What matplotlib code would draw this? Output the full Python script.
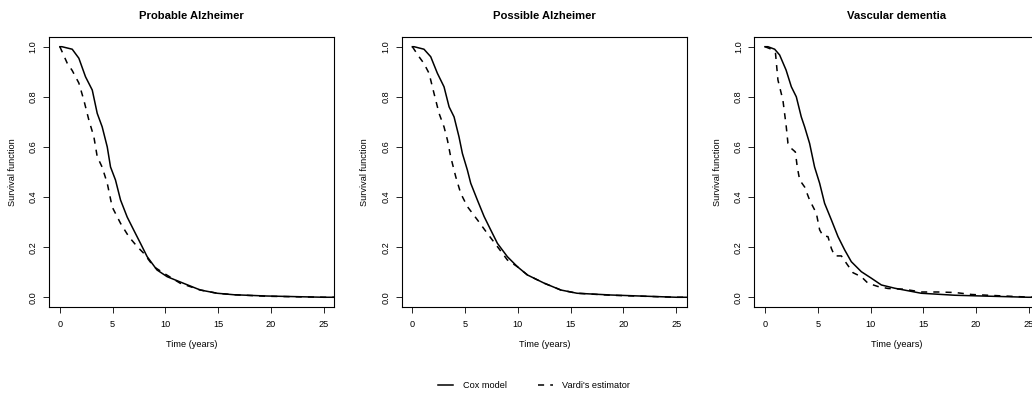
import matplotlib
matplotlib.use("Agg")
import matplotlib.pyplot as plt
from matplotlib.lines import Line2D

plt.rcParams["font.family"] = ["Liberation Sans", "DejaVu Sans"]

TITLES = ["Probable Alzheimer", "Possible Alzheimer", "Vascular dementia"]

# Cox model survival curves (time in years, survival)
cox_t1 = [0.0, 0.2, 1.17, 1.8, 2.43, 3.07, 3.54, 4.01, 4.49, 4.8, 5.27, 5.75, 6.38, 7.0,
          7.64, 8.27, 9.2, 10.17, 11.7, 13.3, 14.9, 16.5, 19.6, 25.0, 26.0]
cox_s1 = [1.0, 1.0, 0.99, 0.954, 0.88, 0.827, 0.734, 0.68, 0.60, 0.52, 0.468, 0.388, 0.32, 0.268,
          0.215, 0.162, 0.109, 0.082, 0.056, 0.029, 0.016, 0.01, 0.005, 0.0, 0.0]
cox_t2 = [0.0, 0.16, 1.1, 1.74, 2.37, 3.0, 3.48, 3.95, 4.42, 4.74, 5.21, 5.53, 6.16, 6.8,
          7.42, 8.06, 9.0, 9.95, 10.9, 12.5, 14.06, 15.6, 18.8, 25.0, 26.0]
cox_s2 = [1.0, 1.0, 0.99, 0.96, 0.894, 0.84, 0.76, 0.72, 0.64, 0.574, 0.508, 0.455, 0.388, 0.322,
          0.269, 0.215, 0.162, 0.122, 0.089, 0.056, 0.029, 0.016, 0.009, 0.0, 0.0]
cox_t3 = [0.0, 0.28, 0.92, 1.39, 2.0, 2.5, 2.97, 3.44, 3.76, 4.23, 4.7, 5.18, 5.65, 6.29,
          6.92, 7.55, 8.18, 9.13, 10.08, 11.03, 12.3, 14.8, 18.0, 24.9, 26.0]
cox_s3 = [1.0, 1.0, 0.99, 0.967, 0.907, 0.84, 0.80, 0.72, 0.68, 0.614, 0.52, 0.455, 0.375, 0.309,
          0.242, 0.189, 0.142, 0.102, 0.076, 0.049, 0.036, 0.016, 0.008, 0.0, 0.0]

# Vardi's estimator
var_t1 = [0.0, 0.7, 1.17, 1.8, 2.27, 2.75, 3.22, 3.54, 4.0, 4.49, 4.96, 5.75, 6.53, 7.33,
          7.96, 8.9, 9.85, 11.4, 13.3, 14.9, 16.5, 19.6, 25.0, 26.0]
var_s1 = [1.0, 0.934, 0.905, 0.855, 0.787, 0.707, 0.641, 0.561, 0.52, 0.455, 0.36, 0.295, 0.242, 0.202,
          0.175, 0.122, 0.096, 0.056, 0.029, 0.016, 0.01, 0.004, 0.0, 0.0]
var_t2 = [0.0, 0.63, 1.1, 1.58, 2.05, 2.53, 3.0, 3.32, 3.63, 4.11, 4.58, 5.21, 6.16, 7.1,
          8.06, 9.0, 9.95, 10.9, 12.5, 14.06, 15.6, 18.8, 25.0, 26.0]
var_s2 = [1.0, 0.96, 0.933, 0.894, 0.814, 0.734, 0.68, 0.628, 0.561, 0.481, 0.415, 0.362, 0.309, 0.255,
          0.202, 0.149, 0.122, 0.089, 0.056, 0.029, 0.016, 0.008, 0.0, 0.0]
var_t3 = [0.0, 0.6, 1.0, 1.23, 1.7, 1.86, 2.02, 2.18, 2.5, 2.88, 3.06, 3.29, 3.76, 4.23, 4.87,
          5.18, 5.5, 5.97, 6.29, 6.6, 7.24, 7.71, 8.34, 9.13, 9.76, 10.7, 11.66, 13.2, 14.8,
          16.4, 18.0, 19.6, 22.7, 25.3, 26.0]
var_s3 = [1.0, 0.99, 0.973, 0.867, 0.787, 0.734, 0.68, 0.614, 0.594, 0.58, 0.52, 0.468, 0.44, 0.388, 0.335,
          0.269, 0.245, 0.242, 0.195, 0.165, 0.165, 0.136, 0.098, 0.082, 0.056, 0.043, 0.035, 0.032, 0.021,
          0.021, 0.019, 0.011, 0.005, 0.0, 0.0]

COX = [(cox_t1, cox_s1), (cox_t2, cox_s2), (cox_t3, cox_s3)]
VARDI = [(var_t1, var_s1), (var_t2, var_s2), (var_t3, var_s3)]

FS = 6.6
LW = 1.1
DASH = (0, (4, 4))

fig = plt.figure(figsize=(10.32, 3.94), dpi=100)
lefts = [49.3, 401.8, 754.4]  # panel left edges in pixels

for i, left in enumerate(lefts):
    ax = fig.add_axes([left / 1032, 0.2201, 285.0 / 1032, 0.6868])
    ax.plot(*COX[i], color="black", lw=LW, solid_joinstyle="round")
    ax.plot(*VARDI[i], color="black", lw=LW, linestyle=DASH)
    ax.set_xlim(-1, 26)
    ax.set_ylim(-0.04, 1.04)
    ax.set_xticks([0, 5, 10, 15, 20, 25])
    ax.set_yticks([0.0, 0.2, 0.4, 0.6, 0.8, 1.0])
    ax.set_yticklabels(["0.0", "0.2", "0.4", "0.6", "0.8", "1.0"])
    for sp in ax.spines.values():
        sp.set_linewidth(0.8)
    ax.tick_params(axis="both", direction="out", length=4.3, width=0.6,
                   labelsize=FS, colors="black")
    ax.tick_params(axis="x", pad=4.5)
    ax.tick_params(axis="y", pad=4.0, labelrotation=90)
    for lab in ax.get_yticklabels():
        lab.set_verticalalignment("center")
    ax.set_title(TITLES[i], fontsize=8.1, fontweight="bold", pad=12.5)
    ax.set_xlabel("Time (years)", fontsize=FS)
    ax.xaxis.set_label_coords(0.5, -0.122)
    ax.set_ylabel("Survival function", fontsize=FS)
    ax.yaxis.set_label_coords(-0.115, 0.5)

handles = [Line2D([], [], color="black", lw=LW),
           Line2D([], [], color="black", lw=LW, linestyle=DASH)]
fig.legend(handles, ["Cox model", "Vardi's estimator"], loc="center left",
           bbox_to_anchor=(438.3 / 1032, 0.021), ncol=2, frameon=False,
           fontsize=FS, handlelength=1.65, handletextpad=1.0,
           columnspacing=3.4, borderpad=0, borderaxespad=0)

fig.savefig("out.png", dpi=100)
